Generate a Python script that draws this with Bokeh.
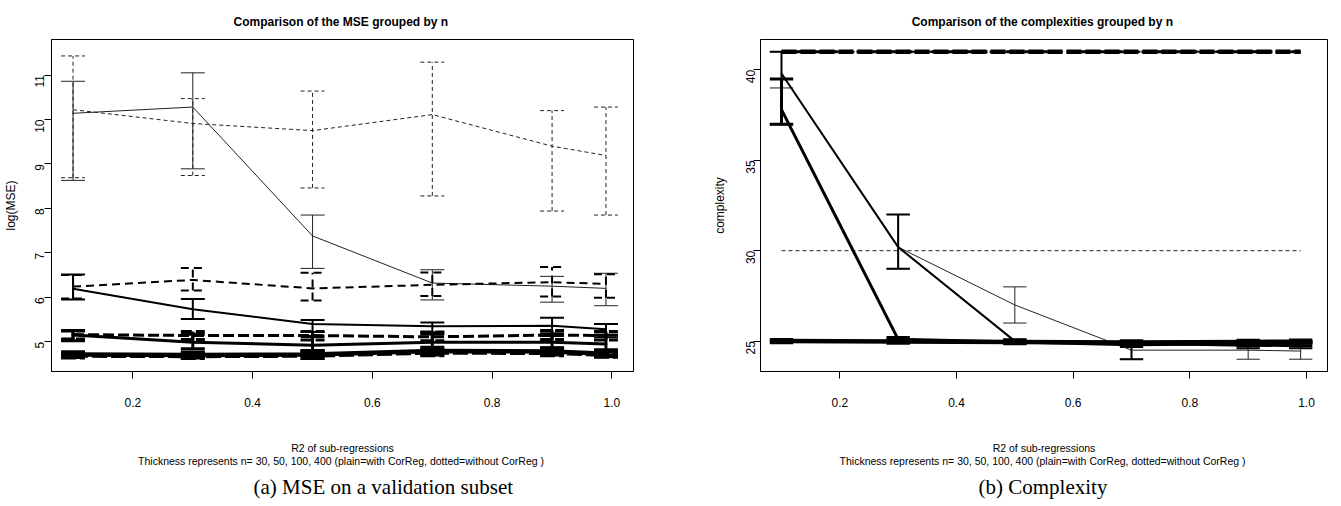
import math
from bokeh.plotting import figure
from bokeh.models import Range1d, FixedTicker, Title
from bokeh.layouts import row
from bokeh.embed import file_html
from bokeh.resources import INLINE

# ---------------- data ----------------
x_r2 = [0.1, 0.3, 0.5, 0.7, 0.9, 0.99]
x_ticks = [0.2, 0.4, 0.6, 0.8, 1.0]
x_tick_labels = ["0.2", "0.4", "0.6", "0.8", "1.0"]
mse_ticks = [5, 6, 7, 8, 9, 10, 11]
cx_ticks = [25, 30, 35, 40]

# log(MSE), with CorReg (plain) / without CorReg (dotted)
mse_with_n30 = [10.14, 10.28, 7.38, 6.32, 6.25, 6.20]
mse_with_n30_lo = [8.63, 8.89, 6.65, 5.94, 5.89, 5.81]
mse_with_n30_hi = [10.86, 11.05, 7.85, 6.62, 6.47, 6.54]
mse_without_n30 = [10.22, 9.91, 9.75, 10.11, 9.40, 9.19]
mse_without_n30_lo = [8.69, 8.74, 8.46, 8.28, 7.94, 7.85]
mse_without_n30_hi = [11.43, 10.47, 10.64, 11.29, 10.20, 10.28]

mse_with_n50 = [6.19, 5.73, 5.40, 5.35, 5.36, 5.28]
mse_with_n50_lo = [5.95, 5.51, 5.22, 5.16, 5.13, 5.10]
mse_with_n50_hi = [6.51, 5.96, 5.49, 5.43, 5.54, 5.40]
mse_without_n50 = [6.24, 6.39, 6.20, 6.28, 6.34, 6.30]
mse_without_n50_lo = [5.97, 6.15, 5.93, 6.03, 6.02, 5.99]
mse_without_n50_hi = [6.50, 6.66, 6.55, 6.56, 6.68, 6.52]

mse_with_n100 = [5.15, 4.99, 4.92, 4.99, 4.99, 4.95]
mse_with_n100_lo = [5.02, 4.84, 4.80, 4.80, 4.86, 4.82]
mse_with_n100_hi = [5.25, 5.17, 5.12, 5.20, 5.18, 5.15]
mse_without_n100 = [5.16, 5.14, 5.14, 5.11, 5.15, 5.14]
mse_without_n100_lo = [5.06, 5.05, 5.04, 5.02, 5.05, 5.04]
mse_without_n100_hi = [5.24, 5.23, 5.23, 5.22, 5.25, 5.23]

mse_with_n400 = [4.71, 4.70, 4.71, 4.79, 4.78, 4.73]
mse_with_n400_lo = [4.66, 4.65, 4.64, 4.72, 4.72, 4.68]
mse_with_n400_hi = [4.76, 4.75, 4.78, 4.86, 4.85, 4.78]
mse_without_n400 = [4.69, 4.68, 4.69, 4.76, 4.75, 4.71]
mse_without_n400_lo = [4.65, 4.64, 4.64, 4.70, 4.70, 4.67]
mse_without_n400_hi = [4.73, 4.73, 4.75, 4.82, 4.81, 4.75]

# complexity
cx_with_n30 = [39.8, 30.2, 27.0, 24.5, 24.5, 24.45]
cx_with_n30_lo = [39.0, 29.0, 26.0, 24.0, 24.0, 24.0]
cx_with_n30_hi = [41.0, 32.0, 28.0, 25.0, 25.0, 25.0]
cx_with_n50 = [39.8, 30.2, 25.0, 24.85, 24.75, 24.72]
cx_with_n50_lo = [37.0, 29.0, 24.9, 24.0, 24.6, 24.6]
cx_with_n50_hi = [41.0, 32.0, 25.1, 25.0, 24.9, 24.9]
cx_with_n100 = [37.8, 25.1, 24.95, 24.8, 24.85, 24.85]
cx_with_n100_lo = [37.0, 25.0, 24.9, 24.7, 24.75, 24.75]
cx_with_n100_hi = [39.5, 25.2, 25.0, 24.95, 24.95, 24.95]
cx_with_n400 = [25.0, 24.98, 24.95, 24.93, 24.95, 24.97]
cx_with_n400_lo = [24.95, 24.93, 24.9, 24.88, 24.9, 24.92]
cx_with_n400_hi = [25.05, 25.03, 25.0, 24.98, 25.0, 25.02]
cx_without_n30 = [30, 30, 30, 30, 30, 30]
cx_without_n50 = [41, 41, 41, 41, 41, 41]
cx_without_n100 = [41, 41, 41, 41, 41, 41]
cx_without_n400 = [41, 41, 41, 41, 41, 41]

# ---------------- styles ----------------
SANS = "Liberation Sans"
SERIF = "Liberation Serif"
WIDTH = {30: 1, 50: 2, 100: 3, 400: 4.5}
COLOR = {30: "#222222", 50: "black", 100: "black", 400: "black"}
DASH = {30: "4 3", 50: "8 5", 100: "11 4", 400: "15 4"}
CAP = 0.02

# page geometry of the two plot frames (page px)
LEFT = dict(ox=8, fx0=54, fx1=636, fy0=47, fy1=379, xr=(0.064, 1.036), yr=(4.33, 11.80), w=672)
RIGHT = dict(ox=680, fx0=763, fx1=1330, fy0=47, fy1=379, xr=(0.064, 1.036), yr=(23.32, 41.68), w=652)
FIG_H = 490
XLABEL = ("R2 of sub-regressions\n"
          "Thickness represents n=  30, 50, 100, 400 (plain=with CorReg, dotted=without CorReg )")


def make_fig(g, yticks, title, ylabel, ylabel_standoff, tick_standoff, caption, caption_offset):
    p = figure(frame_width=g["fx1"] - g["fx0"], frame_height=g["fy1"] - g["fy0"],
               min_border_left=g["fx0"] - g["ox"],
               min_border_right=g["w"] - (g["fx1"] - g["ox"]),
               min_border_top=g["fy0"] - 8,
               min_border_bottom=FIG_H - (g["fy1"] - 8),
               x_range=Range1d(*g["xr"]), y_range=Range1d(*g["yr"]),
               output_backend="svg", toolbar_location=None)
    p.xgrid.visible = False
    p.ygrid.visible = False
    p.outline_line_color = "black"
    p.outline_line_alpha = 1
    p.outline_line_width = 1
    p.background_fill_color = "white"
    p.border_fill_color = "white"
    p.xaxis.ticker = FixedTicker(ticks=x_ticks)
    p.xaxis.major_label_overrides = dict(zip(x_ticks, x_tick_labels))
    p.yaxis.ticker = FixedTicker(ticks=yticks)
    for ax in (p.xaxis, p.yaxis):
        ax.minor_tick_line_color = None
        ax.major_tick_in = 0
        ax.major_tick_out = 7
        ax.axis_line_color = "black"
        ax.major_tick_line_color = "black"
        ax.major_label_text_color = "black"
        ax.axis_label_text_color = "black"
        ax.axis_label_text_font_style = "normal"
    p.xaxis.major_label_text_font = SANS
    p.xaxis.major_label_text_font_size = "12px"
    p.xaxis.major_label_standoff = 19
    p.yaxis.major_label_text_font = SANS
    p.yaxis.major_label_text_font_size = "12px"
    p.yaxis.major_label_orientation = math.pi / 2
    p.yaxis.major_label_standoff = tick_standoff
    # axis titles
    p.xaxis.axis_label = XLABEL
    p.xaxis.axis_label_text_font = SANS
    p.xaxis.axis_label_text_font_size = "10.5px"
    p.xaxis.axis_label_text_line_height = 1.15
    p.xaxis.axis_label_standoff = 32
    p.yaxis.axis_label = ylabel
    p.yaxis.axis_label_text_font = SANS
    p.yaxis.axis_label_text_font_size = "12px"
    p.yaxis.axis_label_standoff = ylabel_standoff
    # main title
    p.title.text = title
    p.title.align = "center"
    p.title.text_font = SANS
    p.title.text_font_size = "12px"
    p.title.text_font_style = "bold"
    p.title.text_color = "black"
    p.title.standoff = 22
    # caption under the chart
    cap = Title(text=caption, align="left", text_font=SERIF, text_font_size="21px",
                text_font_style="normal", text_color="black", offset=caption_offset,
                standoff=5)
    p.add_layout(cap, "below")
    return p


def add_series(p, y, lo, hi, n, dashed):
    w = WIDTH[n]
    c = COLOR[n]
    dash = DASH[n] if dashed else "solid"
    cap = "butt" if dashed else "round"
    p.line(x_r2, y, line_width=w, line_color=c, line_dash=dash,
           line_join="round", line_cap=cap)
    if lo is None:
        return
    sel = [(xx, a, b) for xx, a, b in zip(x_r2, lo, hi) if b > a]
    if not sel:
        return
    xs = [s[0] for s in sel]
    los = [s[1] for s in sel]
    his = [s[2] for s in sel]
    p.segment(x0=xs, y0=los, x1=xs, y1=his, line_width=w, line_color=c,
              line_dash=dash, line_cap="butt")
    for v in (los, his):
        p.segment(x0=[xx - CAP for xx in xs], y0=v, x1=[xx + CAP for xx in xs], y1=v,
                  line_width=w, line_color=c, line_dash=dash, line_cap="butt")


# ---------------- left panel ----------------
p1 = make_fig(LEFT, mse_ticks, "Comparison of the MSE grouped  by n", "log(MSE)", 10, 5,
              "(a) MSE on a validation subset", 202)
add_series(p1, mse_without_n30, mse_without_n30_lo, mse_without_n30_hi, 30, True)
add_series(p1, mse_with_n30, mse_with_n30_lo, mse_with_n30_hi, 30, False)
add_series(p1, mse_without_n50, mse_without_n50_lo, mse_without_n50_hi, 50, True)
add_series(p1, mse_with_n50, mse_with_n50_lo, mse_with_n50_hi, 50, False)
add_series(p1, mse_without_n100, mse_without_n100_lo, mse_without_n100_hi, 100, True)
add_series(p1, mse_with_n100, mse_with_n100_lo, mse_with_n100_hi, 100, False)
add_series(p1, mse_without_n400, mse_without_n400_lo, mse_without_n400_hi, 400, True)
add_series(p1, mse_with_n400, mse_with_n400_lo, mse_with_n400_hi, 400, False)

# ---------------- right panel ----------------
p2 = make_fig(RIGHT, cx_ticks, "Comparison of the complexities grouped  by n", "complexity", 12, 3,
              "(b) Complexity", 218)
add_series(p2, cx_without_n30, None, None, 30, True)
add_series(p2, cx_with_n30, cx_with_n30_lo, cx_with_n30_hi, 30, False)
add_series(p2, cx_without_n50, None, None, 50, True)
add_series(p2, cx_with_n50, cx_with_n50_lo, cx_with_n50_hi, 50, False)
add_series(p2, cx_without_n100, None, None, 100, True)
add_series(p2, cx_with_n100, cx_with_n100_lo, cx_with_n100_hi, 100, False)
add_series(p2, cx_without_n400, None, None, 400, True)
add_series(p2, cx_with_n400, cx_with_n400_lo, cx_with_n400_hi, 400, False)

layout = row(p1, p2)
open("out.html", "w").write(file_html(layout, INLINE))
